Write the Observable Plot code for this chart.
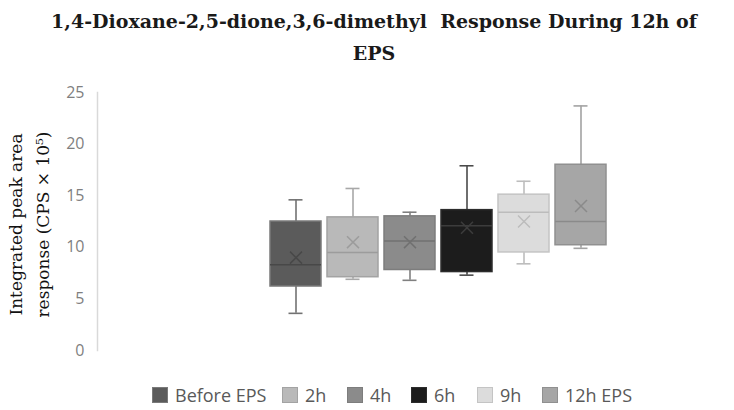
<!DOCTYPE html>
<html><head><meta charset="utf-8">
<script src="https://cdn.jsdelivr.net/npm/d3@7"></script>
<script src="https://cdn.jsdelivr.net/npm/@observablehq/plot@0.6"></script>
<style>
body{margin:0;background:#fff;width:734px;height:410px;overflow:hidden}
#title{height:80px;box-sizing:border-box;padding:5px 0 0 14px;text-align:center;font:bold 19px/32px "DejaVu Serif",serif;color:#1a1a1a;white-space:pre}
#chart svg{display:block}
#legend{position:relative;height:35px;font:18px/1 "Open Sans",sans-serif;color:#595959}
.item{position:absolute;top:11px;display:flex;align-items:center;white-space:nowrap}
.sw{width:14px;height:14px;border:1px solid;margin-right:7px}
</style></head><body>
<div id="title">1,4-Dioxane-2,5-dione,3,6-dimethyl  Response During 12h of
EPS</div>
<div id="chart"></div>
<div id="legend"></div>
<script>
const groups = ["Before EPS", "2h", "4h", "6h", "9h", "12h EPS"];
const minV  = [3.6, 6.9, 6.8, 7.3, 8.4, 9.9];
const q1V   = [6.2, 7.1, 7.8, 7.6, 9.5, 10.2];
const medV  = [8.3, 9.5, 10.6, 12.1, 13.4, 12.5];
const q3V   = [12.5, 12.9, 13.0, 13.6, 15.1, 18.0];
const maxV  = [14.6, 15.7, 13.4, 17.9, 16.4, 23.7];
const meanV = [9.0, 10.5, 10.5, 11.9, 12.5, 14.0];
const yTicks = [0, 5, 10, 15, 20, 25];
const yLabel = "Integrated peak area\nresponse (CPS × 10⁵)";

// styles
const fills   = ["#5b5b5b", "#b9b9b9", "#8b8b8b", "#1c1c1c", "#dcdcdc", "#a6a6a6"];
const strokes = ["#7a7a7a", "#a3a3a3", "#7d7d7d", "#2c2c2c", "#c4c4c4", "#909090"];
const whisks  = ["#727272", "#a8a8a8", "#808080", "#4a4a4a", "#bdbdbd", "#a2a2a2"];
const marks   = ["#484848", "#9c9c9c", "#707070", "#3c3c3c", "#bcbcbc", "#8a8a8a"];
const legendX = [152, 282, 347, 411, 477, 542];

const rows = groups.map((g, i) => ({group: g, i, min: minV[i], q1: q1V[i], med: medV[i], q3: q3V[i], max: maxV[i], mean: meanV[i]}));

const chart = Plot.plot({
  width: 734, height: 295,
  marginLeft: 97, marginRight: 20, marginTop: 12, marginBottom: 25,
  style: {fontFamily: "'Open Sans', sans-serif", fontSize: "16px", background: "white"},
  x: {type: "band", domain: groups, range: [262, 614], padding: 0.1, axis: null},
  y: {domain: [0, 25], axis: null},
  color: {type: "identity"},
  marks: [
    Plot.frame({anchor: "left", stroke: "#d9d9d9", strokeWidth: 1.5}),
    Plot.axisY({ticks: yTicks, tickSize: 0, tickPadding: 13, fill: "#7f7f7f", fontSize: 16, label: null}),
    Plot.text([yLabel], {text: d => d, frameAnchor: "left", textAnchor: "middle", lineAnchor: "middle", dx: -71, dy: 3, rotate: -90, fontFamily: "'DejaVu Serif', serif", fontSize: 17, lineHeight: 1.6, fill: "#111"}),
    Plot.ruleX(rows, {x: "group", y1: "min", y2: "q1", stroke: d => whisks[d.i], strokeWidth: 1.6}),
    Plot.ruleX(rows, {x: "group", y1: "q3", y2: "max", stroke: d => whisks[d.i], strokeWidth: 1.6}),
    Plot.tickY(rows, {x: "group", y: "min", stroke: d => whisks[d.i], strokeWidth: 1.6, insetLeft: 18.5, insetRight: 18.5}),
    Plot.tickY(rows, {x: "group", y: "max", stroke: d => whisks[d.i], strokeWidth: 1.6, insetLeft: 18.5, insetRight: 18.5}),
    Plot.barY(rows, {x: "group", y1: "q1", y2: "q3", fill: d => fills[d.i], stroke: d => strokes[d.i], strokeWidth: 1.5}),
    Plot.tickY(rows, {x: "group", y: "med", stroke: d => marks[d.i], strokeWidth: 1.5}),
    Plot.dot(rows, {x: "group", y: "mean", symbol: "times", r: 5.5, stroke: d => marks[d.i], strokeWidth: 1.5})
  ]
});
document.getElementById("chart").appendChild(chart);

const legend = document.getElementById("legend");
groups.forEach((g, i) => {
  const it = document.createElement("div");
  it.className = "item";
  it.style.left = legendX[i] + "px";
  const sw = document.createElement("div");
  sw.className = "sw";
  sw.style.background = fills[i];
  sw.style.borderColor = strokes[i];
  const t = document.createElement("span");
  t.textContent = g;
  it.appendChild(sw); it.appendChild(t);
  legend.appendChild(it);
});
</script>
</body></html>
